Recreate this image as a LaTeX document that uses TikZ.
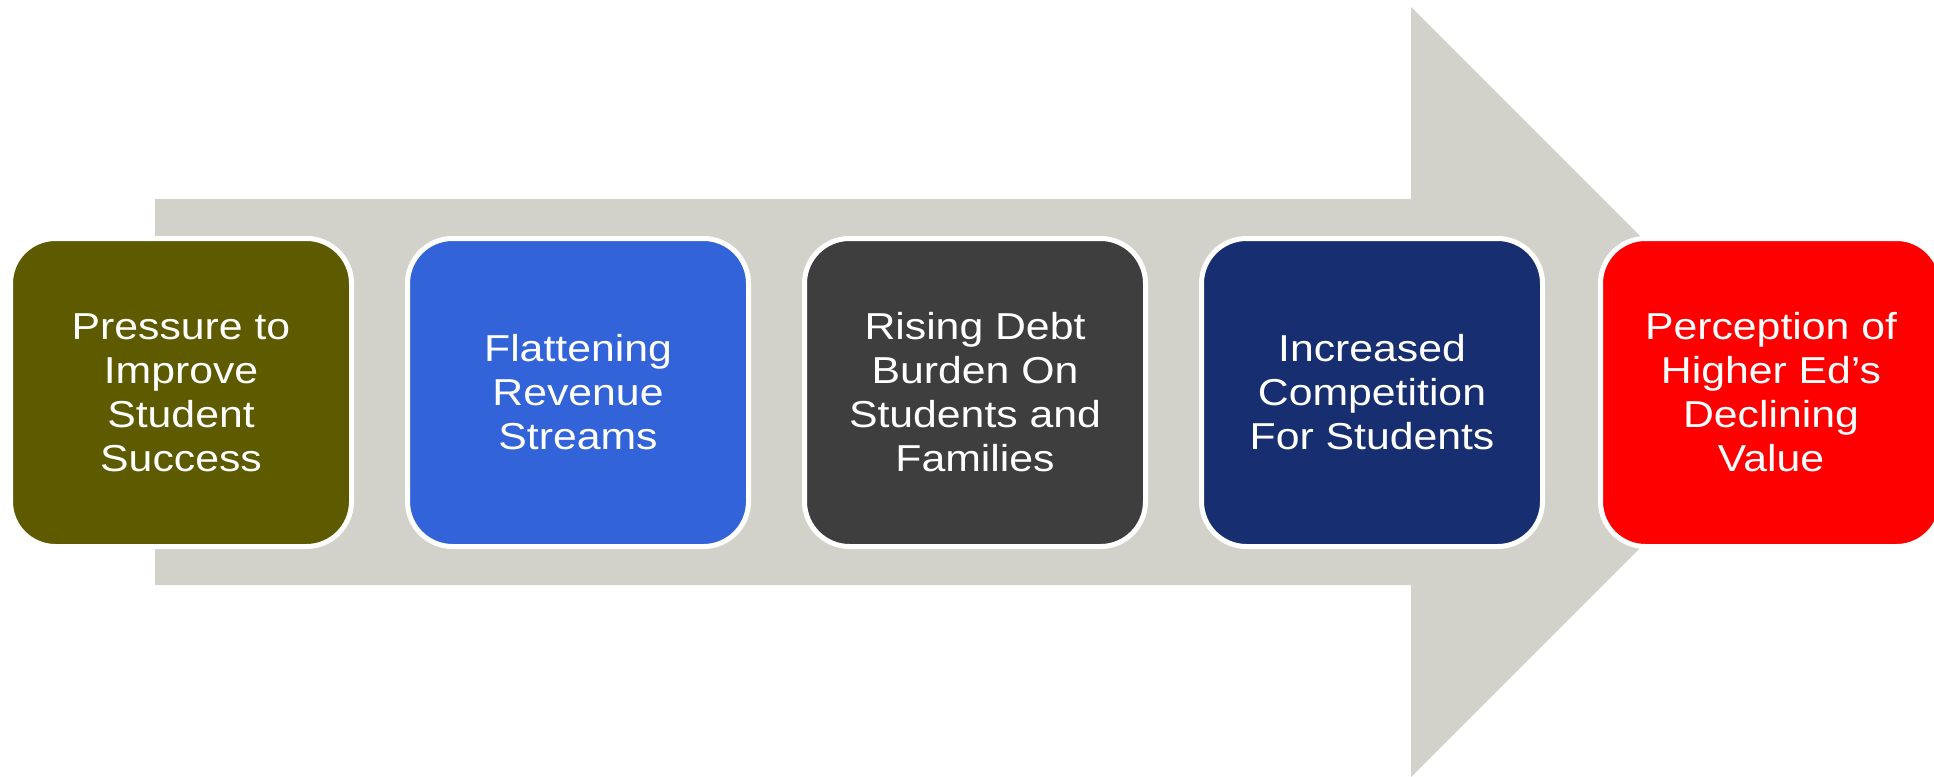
\documentclass[tikz,border=0pt]{standalone}
\usepackage{fontspec}
\setmainfont[FakeStretch=1.14]{Liberation Sans}
\definecolor{arrowgray}{RGB}{210,210,203}
\definecolor{olivebox}{RGB}{94,90,0}
\definecolor{bluebox}{RGB}{51,99,217}
\definecolor{graybox}{RGB}{62,62,62}
\definecolor{navybox}{RGB}{23,46,112}
\definecolor{redbox}{RGB}{255,0,0}
\begin{document}
\begin{tikzpicture}[x=1pt,y=-1pt,
  stagebox/.style={rectangle, rounded corners=45pt, draw=white, line width=5pt,
    minimum width=341pt, minimum height=308pt, inner sep=0pt,
    align=center, text=white,
    font=\fontsize{37.5}{44}\selectfont}]
\useasboundingbox (0,0) rectangle (1934,776);
\clip (0,0) rectangle (1934,776);
% broad background arrow
\fill[arrowgray] (155,199) -- (1411,199) -- (1411,7) -- (1796,392)
  -- (1411,777) -- (1411,585) -- (155,585) -- cycle;
% the five stages
\node[stagebox, fill=olivebox] (b1) at (181,392.5) {Pressure to\\Improve\\Student\\Success};
\node[stagebox, fill=bluebox]  (b2) at (578,392.5) {Flattening\\Revenue\\Streams};
\node[stagebox, fill=graybox]  (b3) at (975,392.5) {Rising Debt\\Burden On\\Students and\\Families};
\node[stagebox, fill=navybox]  (b4) at (1372,392.5) {Increased\\Competition\\For Students};
\node[stagebox, fill=redbox]   (b5) at (1771,392.5) {Perception of\\Higher Ed’s\\Declining\\Value};
\end{tikzpicture}
\end{document}
